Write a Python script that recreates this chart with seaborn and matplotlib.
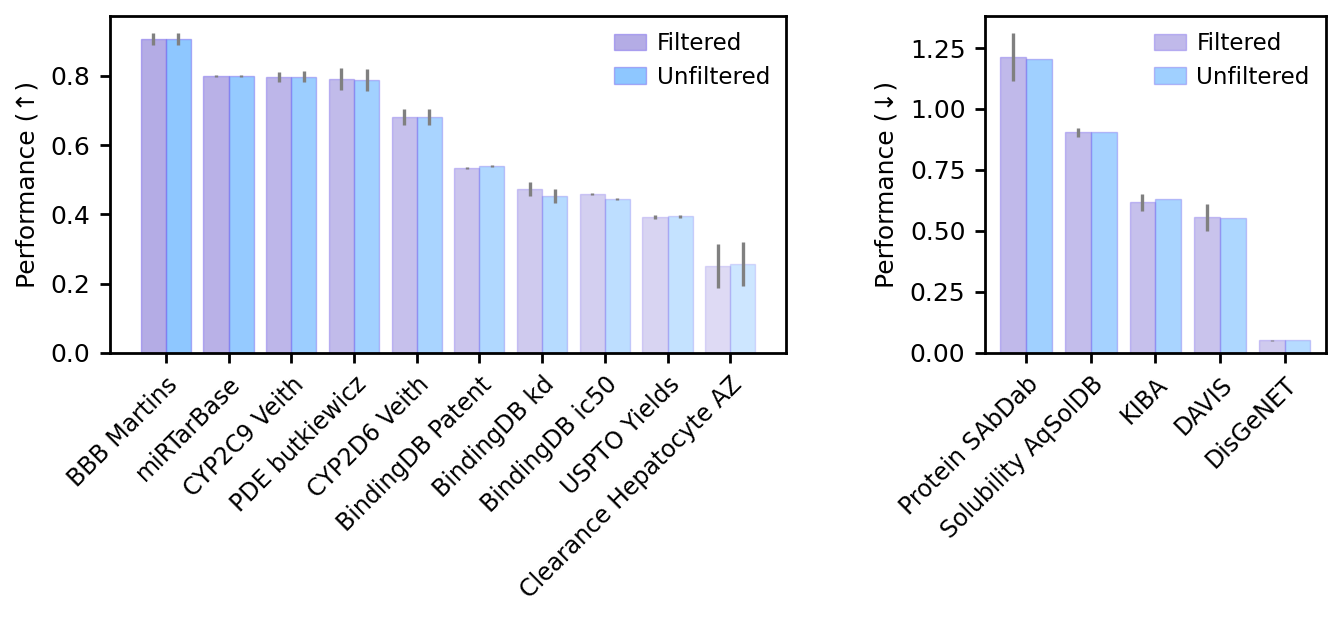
import numpy as np
import pandas as pd
import matplotlib
matplotlib.use("Agg")
import matplotlib.pyplot as plt
from matplotlib.ticker import MultipleLocator
import seaborn as sns

# left panel: higher is better
tasks_up = ['BBB Martins', 'miRTarBase', 'CYP2C9 Veith', 'PDE butkiewicz', 'CYP2D6 Veith',
            'BindingDB Patent', 'BindingDB kd', 'BindingDB ic50', 'USPTO Yields',
            'Clearance Hepatocyte AZ']
filt_up = [0.906, 0.800, 0.797, 0.791, 0.681, 0.535, 0.473, 0.458, 0.392, 0.251]
unfilt_up = [0.906, 0.800, 0.798, 0.789, 0.682, 0.539, 0.453, 0.444, 0.394, 0.256]
filt_up_err = [0.017, 0.002, 0.015, 0.031, 0.023, 0.003, 0.021, 0.003, 0.005, 0.063]
unfilt_up_err = [0.017, 0.002, 0.015, 0.032, 0.023, 0.003, 0.021, 0.003, 0.005, 0.064]

# right panel: lower is better
tasks_down = ['Protein SAbDab', 'Solubility AqSolDB', 'KIBA', 'DAVIS', 'DisGeNET']
filt_down = [1.214, 0.904, 0.617, 0.556, 0.052]
unfilt_down = [1.205, 0.904, 0.630, 0.552, 0.052]
filt_down_err = [0.098, 0.018, 0.035, 0.055, 0.002]
unfilt_down_err = [0, 0, 0, 0, 0]

alpha_up = [0.50, 0.47, 0.44, 0.41, 0.38, 0.35, 0.32, 0.29, 0.26, 0.22]
alpha_down = [0.42, 0.40, 0.38, 0.36, 0.32]

palette = {'Filtered': 'slateblue', 'Unfiltered': 'dodgerblue'}

plt.rcParams['font.size'] = 9
plt.rcParams['axes.linewidth'] = 1.0
plt.rcParams['xtick.major.width'] = 1.0
plt.rcParams['ytick.major.width'] = 1.0
plt.rcParams['xtick.labelsize'] = 8.5
plt.rcParams['ytick.labelsize'] = 9


def make_df(tasks, filt, unfilt):
    return pd.DataFrame({
        'task': tasks * 2,
        'score': filt + unfilt,
        'setting': ['Filtered'] * len(tasks) + ['Unfiltered'] * len(tasks),
    })


def draw(ax, tasks, filt, unfilt, ferr, uerr, alphas, ylabel):
    df = make_df(tasks, filt, unfilt)
    sns.barplot(data=df, x='task', y='score', hue='setting', palette=palette,
                saturation=1, errorbar=None, width=0.8, legend=False, ax=ax)
    for cont, errs in zip(ax.containers, [ferr, uerr]):
        for bar, a, e in zip(cont, alphas, errs):
            bar.set_edgecolor('mediumslateblue')
            bar.set_linewidth(0.5)
            bar.set_alpha(a)
            if e > 0:
                x = bar.get_x() + bar.get_width() / 2
                ax.errorbar(x, bar.get_height(), yerr=e, fmt='none',
                            ecolor='grey', elinewidth=1.2, capsize=0, zorder=3)
    handles = [ax.containers[0][0], ax.containers[1][0]]
    ax.legend(handles, ['Filtered', 'Unfiltered'], frameon=False, loc='upper right',
              fontsize=8.3, handlelength=1.4, handletextpad=0.45, borderaxespad=0.3,
              labelspacing=0.45)
    ax.set_xlabel('')
    ax.set_ylabel(ylabel, fontsize=9)
    ax.set_xticks(range(len(tasks)))
    ax.set_xticklabels(tasks, rotation=45, ha='right', rotation_mode='anchor')


fig, (ax1, ax2) = plt.subplots(1, 2, figsize=(6.71, 3.09), dpi=200,
                               gridspec_kw={'width_ratios': [676, 341]})
fig.subplots_adjust(left=0.082, right=0.988, bottom=0.429, top=0.974, wspace=0.391)

draw(ax1, tasks_up, filt_up, unfilt_up, filt_up_err, unfilt_up_err, alpha_up,
     'Performance (↑)')
ax1.set_xlim(-0.89, 9.89)
ax1.set_ylim(0, 0.9726)
ax1.yaxis.set_major_locator(MultipleLocator(0.2))

draw(ax2, tasks_down, filt_down, unfilt_down, filt_down_err, unfilt_down_err, alpha_down,
     'Performance (↓)')
ax2.set_xlim(-0.64, 4.64)
ax2.set_ylim(0, 1.381)
ax2.yaxis.set_major_locator(MultipleLocator(0.25))

fig.savefig('out.png', dpi=200)
